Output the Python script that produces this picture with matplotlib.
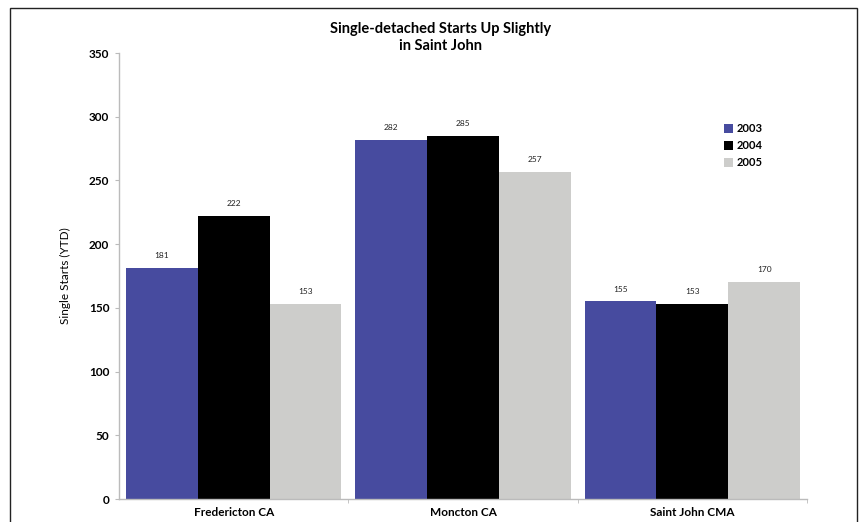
import matplotlib
matplotlib.use('Agg')
import matplotlib.pyplot as plt
import numpy as np
from matplotlib.patches import Rectangle

plt.rcParams['font.family'] = ['Lato', 'DejaVu Sans']

# housing starts, year to date
regions = ['Fredericton CA', 'Moncton CA', 'Saint John CMA']
years = ['2003', '2004', '2005']
starts_2003 = [181, 282, 155]
starts_2004 = [222, 285, 153]
starts_2005 = [153, 257, 170]
colors = ['#474B9F', '#000000', '#CDCDCB']

fig = plt.figure(figsize=(8.61, 5.22), dpi=100)
# thin frame round the whole chart
fig.patches.append(Rectangle((10/861, -0.05), 847/861, 1.05 - 8/522,
                             transform=fig.transFigure, fill=False,
                             edgecolor='#222222', linewidth=1.0))

ax = fig.add_axes([119/861, 23/522, 688/861, 446/522])

x = np.arange(len(regions))
w = 0.313
for i, (vals, yr) in enumerate(zip([starts_2003, starts_2004, starts_2005], years)):
    pos = x + (i - 1) * w
    ax.bar(pos, vals, width=w, color=colors[i], label=yr, linewidth=0)
    for p, v in zip(pos, vals):
        ax.text(p, v + 7, str(v), ha='center', va='bottom', fontsize=6, color='#222222')

ax.set_xlim(-0.5, 2.5)
ax.set_ylim(0, 350)
ax.set_yticks(np.arange(0, 351, 50))
ax.set_xticks(x)
ax.set_xticklabels(regions, fontsize=8.5, fontweight='bold')
ax.set_xticks([0.5, 1.5, 2.5], minor=True)
ax.tick_params(axis='x', which='major', length=0, pad=6)
ax.tick_params(axis='x', which='minor', length=3, color='#BBBBBB')
ax.tick_params(axis='y', length=3, color='#BBBBBB', labelsize=8.5, pad=4)
for lab in ax.get_yticklabels():
    lab.set_fontweight('bold')

for s in ['top', 'right']:
    ax.spines[s].set_visible(False)
for s in ['left', 'bottom']:
    ax.spines[s].set_color('#BBBBBB')
    ax.spines[s].set_linewidth(1.0)

ax.set_ylabel('Single Starts (YTD)', fontsize=8.5, labelpad=13)
fig.text(0.512, 0.928, 'Single-detached Starts Up Slightly\nin Saint John',
         ha='center', va='center', fontsize=10.5, fontweight='bold', linespacing=1.3)

leg = ax.legend(loc='upper left', bbox_to_anchor=(0.865, 0.865), frameon=False,
                handlelength=0.8, handleheight=0.8, handletextpad=0.3,
                labelspacing=0.55, prop={'size': 8, 'weight': 'bold'})

fig.savefig('out.png', dpi=100)
